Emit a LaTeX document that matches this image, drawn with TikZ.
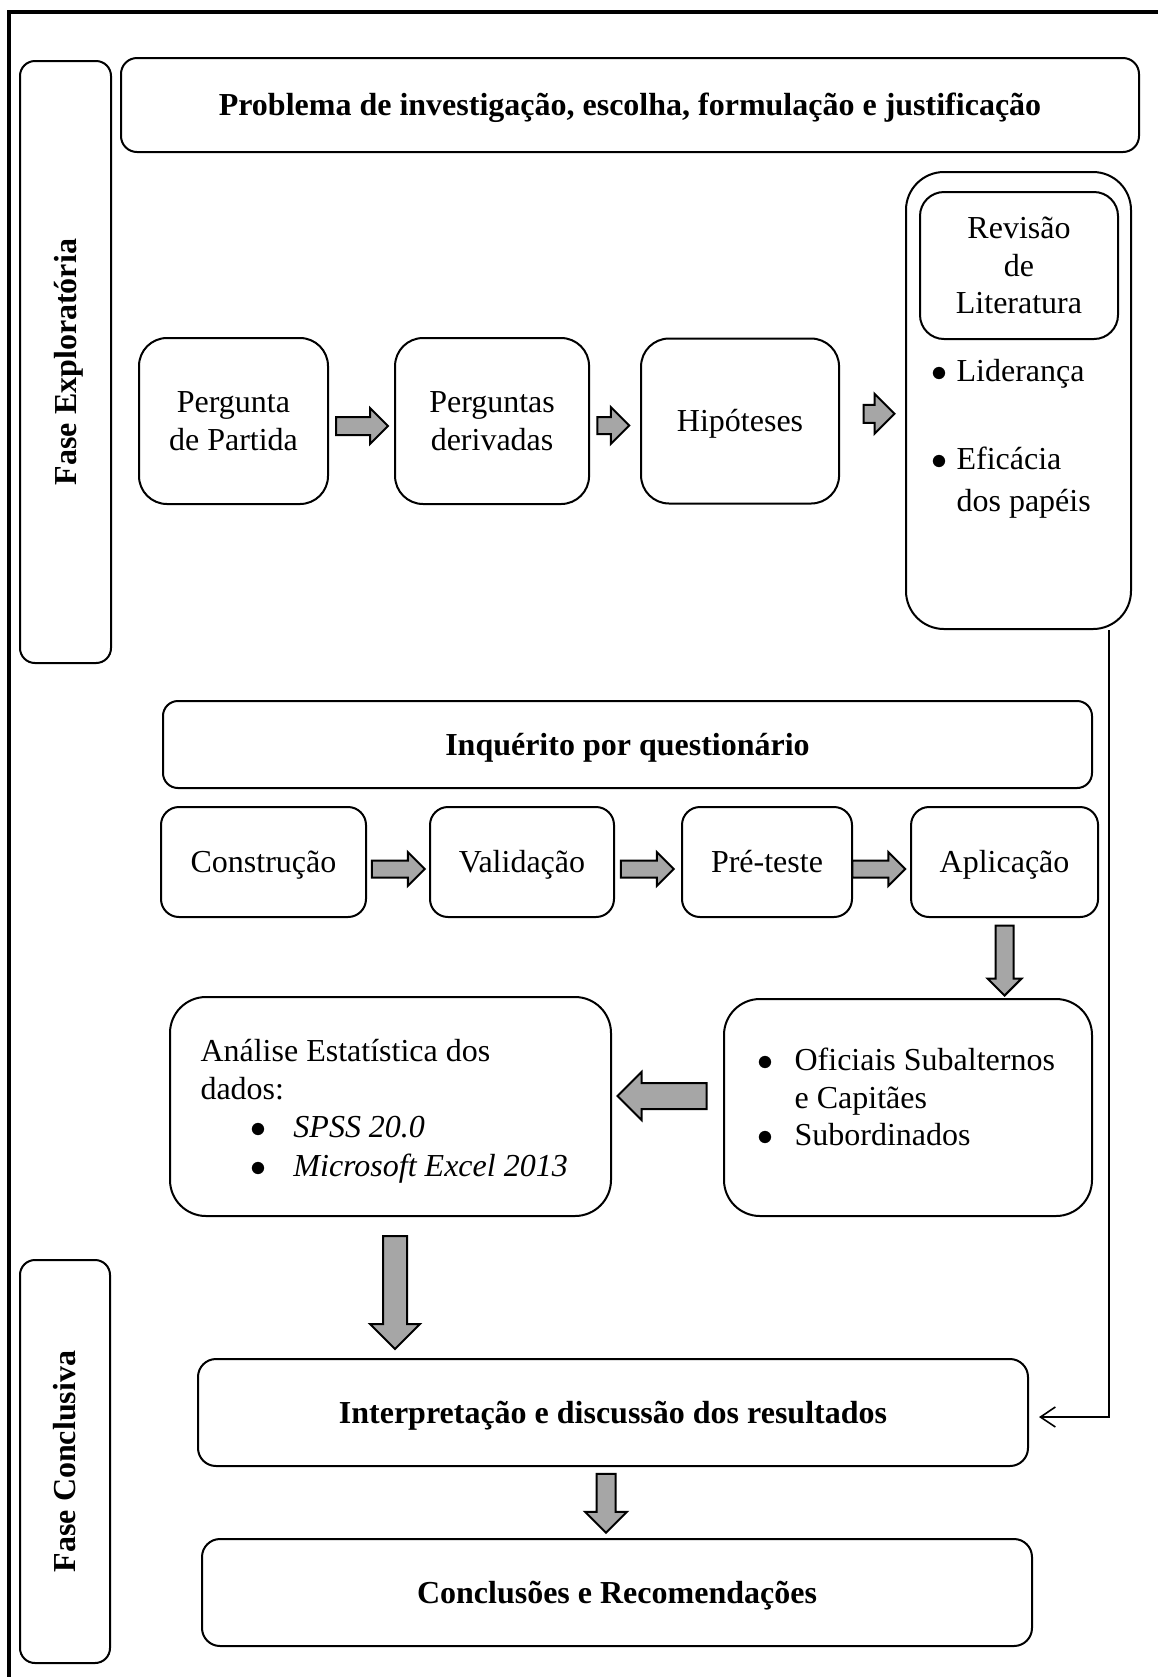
\documentclass[tikz,border=0pt]{standalone}
\usepackage{fontspec}
\setmainfont{Liberation Serif}
\usetikzlibrary{shapes.arrows, arrows.meta, calc, positioning}
\definecolor{arrowgray}{RGB}{166,166,166}
\newcommand{\pxunit}{0.375pt}
\newcommand{\itemdot}{$\bullet$}
\tikzstyle{roundbox} = [rectangle, draw=black, line width=0.75pt, align=center,
    inner sep=0pt, font=\fontsize{12}{14}\selectfont]
\tikzstyle{oneline} = [text height=10.7pt, text depth=2.6pt]
\tikzstyle{titlebox} = [roundbox, oneline, font=\fontsize{12}{14}\selectfont\bfseries]
\tikzstyle{listtext} = [anchor=west, align=left, inner sep=0pt]
\tikzstyle{blockarrow} = [single arrow, draw=black, fill=arrowgray,
    line width=0.75pt, inner xsep=0pt]
\tikzstyle{link} = [line width=0.6pt, -{Straight Barb[length=5.6pt, width=7.5pt]}]
\tikzset{dims/.style 2 args={minimum width=#1*\pxunit, minimum height=#2*\pxunit},
    arrowdims/.style n args={3}{minimum height=#1*\pxunit, inner ysep=#2*\pxunit/2,
    single arrow head extend=#3*\pxunit}}

\begin{document}
\begin{tikzpicture}[x=0.375pt, y=-0.375pt]
            \useasboundingbox (0,0) rectangle (1158,1677);
            % Frame
            \draw[line width=1.5pt] (8.5,1677) -- (8.5,12) -- (1158,12);
            % Phases
            \node[titlebox, rotate=90, dims={602}{91}, rounded corners=5.6pt] (fexp) at (65.5,362) {Fase Exploratória};
            \node[titlebox, rotate=90, dims={403}{90}, rounded corners=5.6pt] (fcon) at (65,1461.5) {Fase Conclusiva};
            % Exploratory phase
            \node[titlebox, dims={1018}{94}, rounded corners=6pt] (prob) at (630,105)
            {Problema de investigação, escolha, formulação e justificação};
            \node[roundbox, dims={189}{166}, rounded corners=10.5pt] (pp) at (233.5,421) {Pergunta\\de Partida};
            \node[roundbox, dims={194}{166}, rounded corners=10.5pt, right=24.4pt of pp] (pd) {Perguntas\\derivadas};
            \node[roundbox, oneline, dims={198}{165}, rounded corners=10.5pt, right=18.75pt of pd] (hip) {Hipóteses};
            \node[roundbox, dims={225}{457}, rounded corners=14.25pt] (revout) at (1018.5,400.5) {};
            \node[roundbox, dims={198}{147}, rounded corners=9pt] (revin) at (1019,265.5) {Revisão\\de\\Literatura};
            \node[listtext, font=\fontsize{12}{14}\selectfont] (lid) at (931,374)
            {\makebox[9.4pt][l]{\itemdot}Liderança};
            \node[listtext, font=\fontsize{12}{16}\selectfont] (efi) at (931,482.5)
            {\makebox[9.4pt][l]{\itemdot}Eficácia\\\hspace*{9.4pt}dos papéis};
            % Questionnaire
            \node[titlebox, dims={929}{87}, rounded corners=5.6pt] (inq) at (627.5,744.5) {Inquérito por questionário};
            \node[roundbox, oneline, dims={205}{110}, rounded corners=6.75pt] (con) at (263.5,862) {Construção};
            \node[roundbox, oneline, dims={184}{110}, rounded corners=6.75pt, right=23.25pt of con] (val) {Validação};
            \node[roundbox, oneline, dims={170}{110}, rounded corners=6.75pt, right=24.75pt of val] (pre) {Pré-teste};
            \node[roundbox, oneline, dims={187}{110}, rounded corners=6.75pt, right=21.4pt of pre] (apl) {Aplicação};
            \node[roundbox, dims={368}{217}, rounded corners=13.5pt] (ofi) at (908,1107.5) {};
            \node[listtext, font=\fontsize{12}{14}\selectfont] (ofitxt) at (757,1097)
            {\makebox[13.9pt][l]{\itemdot}Oficiais Subalternos\\\hspace*{13.9pt}e Capitães\\
            \makebox[13.9pt][l]{\itemdot}Subordinados};
            \node[roundbox, dims={441}{219}, rounded corners=13.5pt] (ana) at (390.5,1106.5) {};
            \node[listtext, font=\fontsize{12}{14.4}\selectfont] (anatxt) at (200,1111)
            {Análise Estatística dos\\dados:\\
            \hspace*{18.75pt}\makebox[16.1pt][l]{\itemdot}\textit{SPSS 20.0}\\
            \hspace*{18.75pt}\makebox[16.1pt][l]{\itemdot}\textit{Microsoft Excel 2013}};
            % Conclusive phase
            \node[titlebox, dims={830}{107}, rounded corners=6.75pt] (int) at (613,1412.5)
            {Interpretação e discussão dos resultados};
            \node[titlebox, dims={830}{107}, rounded corners=6.75pt] (conc) at (617,1592.5)
            {Conclusões e Recomendações};
            % Arrows
            \node[blockarrow, arrowdims={52}{16}{9}] (a1) at ($(pp.east)!0.5!(pd.west)+(-4,5)$) {};
            \node[blockarrow, arrowdims={32}{15}{10}] (a2) at ($(pd.east)!0.5!(hip.west)+(-6,4.5)$) {};
            \node[blockarrow, arrowdims={31}{16}{11}] (a3) at ($(hip.east)!0.5!(revout.west)+(2,3)$) {};
            \node[blockarrow, arrowdims={53}{15}{8.5}] (a4) at ($(con.east)!0.5!(val.west)+(-4,7)$) {};
            \node[blockarrow, arrowdims={53}{15}{8.5}] (a5) at ($(val.east)!0.5!(pre.west)+(-5,7)$) {};
            \node[blockarrow, arrowdims={53}{15}{8.5}] (a6) at ($(pre.east)!0.5!(apl.west)+(-7,7)$) {};
            \node[blockarrow, arrowdims={70}{16}{8}, rotate=-90] (a7) at ($(apl.south)!0.5!(apl.south|-ofi.north)+(0,-2)$) {};
            \node[blockarrow, arrowdims={89}{24}{11}, rotate=180] (a8) at ($(ofi.west)!0.5!(ana.east)+(1,-11)$) {};
            \node[blockarrow, arrowdims={113}{22}{13}, rotate=-90] (a9) at ($(ana.south)!0.5!(ana.south|-int.north)+(4.5,-1)$) {};
            \node[blockarrow, arrowdims={59}{17}{11.5}, rotate=-90] (a10) at ($(int.south)!0.5!(conc.north)+(-9,-4)$) {};
            % Literature review feeds the discussion
            \coordinate (inttip) at ($(int.east)+(10,4.5)$);
            \draw[link] ($(revout.south east)+(-23,0)$) |- (inttip);
\end{tikzpicture}
\end{document}
